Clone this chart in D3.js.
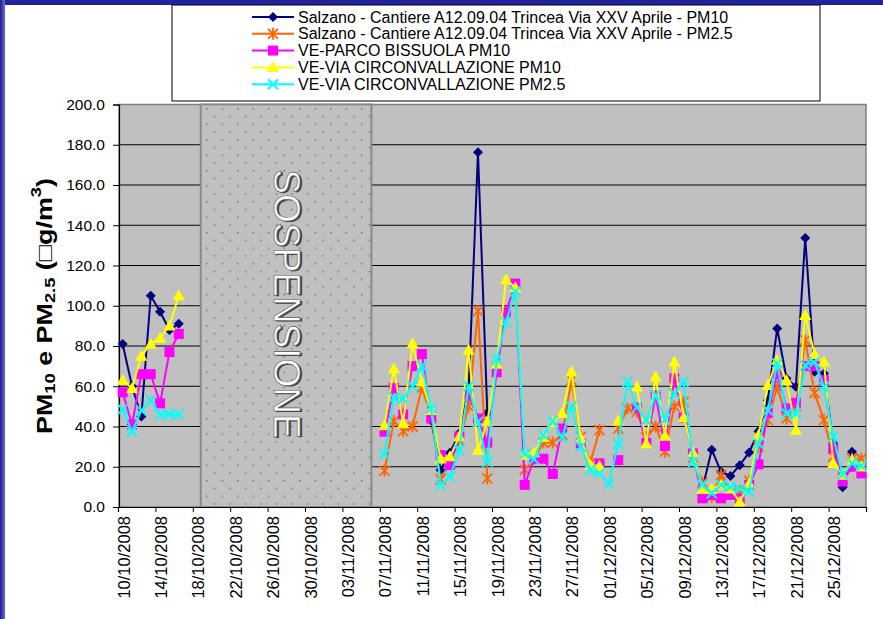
<!DOCTYPE html>
<html><head><meta charset="utf-8">
<script src="https://cdn.jsdelivr.net/npm/d3@7"></script>
<style>
html,body{margin:0;padding:0;background:#fff;}
svg{display:block;font-family:"Liberation Sans",Arial,sans-serif;}
</style></head><body>
<svg id="c" width="883" height="619"></svg>
<script>
// ---- data ----
const startDate = "10/10/2008";
const nDays = 80;
const seriesNames = [
  "Salzano - Cantiere A12.09.04 Trincea Via XXV Aprile - PM10",
  "Salzano - Cantiere A12.09.04 Trincea Via XXV Aprile - PM2.5",
  "VE-PARCO BISSUOLA PM10",
  "VE-VIA CIRCONVALLAZIONE PM10",
  "VE-VIA CIRCONVALLAZIONE PM2.5"
];
const _ = null;
const salzanoPM10 = [
  81,60,45,105,97,88,91,_,_,_,
  _,_,_,_,_,_,_,_,_,_,
  _,_,_,_,_,_,_,_,_,_,
  _,_,_,43,18.4,27,36.6,58,176.3,46.8,
  _,_,_,_,_,_,_,_,_,_,
  _,_,_,_,_,_,_,_,_,_,
  _,_,9,28.5,17.5,15.4,20.8,27.1,37.7,53.1,
  88.7,63.9,59.7,133.7,67.2,66.3,31.6,9.8,27.5,_
];
const salzanoPM25 = [
  _,_,_,_,_,_,_,_,_,_,
  _,_,_,_,_,_,_,_,_,_,
  _,_,_,_,_,_,_,_,18,42.7,
  37.7,40,59.4,45,13.7,22,33,50,97.3,14.2,
  _,_,_,18.4,24,32,32,36,63,35,
  21.7,38.2,_,39,49,47.3,34.6,40,27.5,50,
  52.3,24.5,12,5,16,6.7,8,13,30,43.2,
  59.7,44,50,82.9,56.7,43.2,25,14,24,24
];
const bissuolaPM10 = [
  57,41,66,66,51.5,77,86,_,_,_,
  _,_,_,_,_,_,_,_,_,_,
  _,_,_,_,_,_,_,_,37.4,59.2,
  46,70,76,44,25.8,20.8,35,56,44,32,
  67,97,111,11,24,24,16.4,39,_,31.6,
  _,21.7,_,23.3,_,49.5,31.9,55.6,30.3,63.9,
  44.5,26.6,4.3,6,4.3,6,4.1,11,21.2,46.8,
  66.3,49,51.8,70,70,63,29,12.6,20,16.7
];
const circPM10 = [
  63,59,75,81,84,90,105,_,_,_,
  _,_,_,_,_,_,_,_,_,_,
  _,_,_,_,_,_,_,_,40.4,68.8,
  41.5,81.2,62.2,48,24,25,35,78,28.3,42.3,
  71,113,109,25.8,27,34.6,42,46.5,67.2,34.1,
  21,20.3,_,42.8,_,59.7,31.5,64.7,35.2,72.1,
  44.5,27,8.8,8.8,10.9,9,2.6,11.7,35.7,60.5,
  73,63,38.2,95.3,75.9,72.1,21.7,15.9,23.3,20
];
const circPM25 = [
  48.5,37.5,48,53,46,46,46,_,_,_,
  _,_,_,_,_,_,_,_,_,_,
  _,_,_,_,_,_,_,_,26.3,54.4,
  53.9,60,70,49,10.9,15,28.3,60,42.3,22.5,
  73.3,92,107,26.3,23.7,35.7,42.8,34.6,49.8,30,
  18.4,16.7,11.7,31.3,62.2,49.5,43.2,55.6,43.5,56.4,
  62.2,22.5,10.9,6.8,11,10,9,7.6,31.6,48.1,
  71.3,46.5,46.5,70.5,72,59.7,34.9,16,21.7,20.5
];
const xTickLabels = ["10/10/2008","14/10/2008","18/10/2008","22/10/2008","26/10/2008","30/10/2008",
  "03/11/2008","07/11/2008","11/11/2008","15/11/2008","19/11/2008","23/11/2008","27/11/2008",
  "01/12/2008","05/12/2008","09/12/2008","13/12/2008","17/12/2008","21/12/2008","25/12/2008"];
const yTicks = [0,20,40,60,80,100,120,140,160,180,200];
const suspension = {label:"SOSPENSIONE", from:"18/10/2008", fromOffset:0.85, to:"06/11/2008", toOffset:0.1};
const colors = ["#000080","#FF6600","#FF00FF","#FFFF00","#00FFFF"];
const markers = ["diamond","asterisk","square","triangle","x"];

// ---- chart ----
const parse = d3.utcParse("%d/%m/%Y");
const DAY = 864e5;
const t0 = parse(startDate);
const dates = d3.range(nDays).map(i => new Date(+t0 + i*DAY));
const svg = d3.select("#c");

// frame
svg.append("rect").attr("x",0).attr("y",0).attr("width",883).attr("height",619).attr("fill","#fff");
const g0 = svg.append("defs").append("linearGradient").attr("id","bl").attr("x1",0).attr("x2",1).attr("y1",0).attr("y2",0);
g0.append("stop").attr("offset",0).attr("stop-color","#1c1c8c");
g0.append("stop").attr("offset",1).attr("stop-color","#6a6ad0");
svg.append("rect").attr("x",0).attr("y",0).attr("width",883).attr("height",5).attr("fill","#2323a0");
svg.append("rect").attr("x",0).attr("y",0).attr("width",5).attr("height",619).attr("fill","url(#bl)");

const L = 119, R = 866, T = 104.5, B = 507;
const x = d3.scaleUtc().domain([t0, new Date(+t0 + nDays*DAY)]).range([118, R]);
const y = d3.scaleLinear().domain([0,200]).range([B, T]);

svg.append("rect").attr("x",L).attr("y",T).attr("width",R-L).attr("height",B-T)
  .attr("fill","#C0C0C0").attr("stroke","#808080").attr("stroke-width",1.5);

// gridlines
svg.append("g").selectAll("line").data(yTicks.filter(v=>v>0 && v<200)).join("line")
  .attr("x1",L).attr("x2",R).attr("y1",d=>y(d)).attr("y2",d=>y(d))
  .attr("stroke","#000").attr("stroke-width",1.2);

// suspension
const defs = svg.append("defs");
const pat = defs.append("pattern").attr("id","dots").attr("patternUnits","userSpaceOnUse")
  .attr("width",15.5).attr("height",15.5).attr("x",206).attr("y",108);
pat.append("rect").attr("width",15.5).attr("height",15.5).attr("fill","#C0C0C0");
pat.append("rect").attr("x",0).attr("y",0).attr("width",1.4).attr("height",1.4).attr("fill","#6e6e6e");
pat.append("rect").attr("x",7.75).attr("y",7.75).attr("width",1.4).attr("height",1.4).attr("fill","#6e6e6e");
const sx0 = x(new Date(+parse(suspension.from) + suspension.fromOffset*DAY));
const sx1 = x(new Date(+parse(suspension.to) + suspension.toOffset*DAY));
svg.append("rect").attr("x",sx0).attr("y",T).attr("width",sx1-sx0).attr("height",B-T)
  .attr("fill","url(#dots)").attr("stroke","#8a8a8a").attr("stroke-width",2);
const sc = (sx0+sx1)/2, sy = 304;
svg.append("text").attr("transform",`translate(${sc+2},${sy+1}) rotate(90)`)
  .attr("text-anchor","middle").attr("dominant-baseline","central")
  .attr("font-size",37).attr("fill","#404040").text(suspension.label);
svg.append("text").attr("transform",`translate(${sc},${sy}) rotate(90)`)
  .attr("text-anchor","middle").attr("dominant-baseline","central")
  .attr("font-size",37).attr("fill","#fff").attr("stroke","#555").attr("stroke-width",0.6).text(suspension.label);

// y axis
const ya = svg.append("g").attr("transform",`translate(${L},0)`)
  .call(d3.axisLeft(y).tickValues(yTicks).tickFormat(d3.format(".1f")).tickSize(6).tickPadding(8));
ya.select(".domain").attr("stroke","#000").attr("stroke-width",1.2);
ya.selectAll(".tick line").attr("stroke","#000");
ya.selectAll("text").attr("font-size",15.5).attr("font-family","Liberation Sans, Arial").attr("fill","#000");

// x axis
const tickDates = xTickLabels.map(parse).concat([new Date(+t0 + nDays*DAY)]);
const xa = svg.append("g").attr("transform",`translate(0,${B})`)
  .call(d3.axisBottom(x).tickValues(tickDates).tickSize(5).tickFormat(""));
xa.select(".domain").attr("stroke","#000").attr("stroke-width",1.2);
xa.selectAll(".tick line").attr("stroke","#000");
svg.append("g").selectAll("text").data(xTickLabels).join("text")
  .attr("transform",d=>`translate(${x(new Date(+parse(d)+0.5*DAY))+1},${516}) rotate(-90)`)
  .attr("text-anchor","end").attr("dominant-baseline","central")
  .attr("font-size",16.5).attr("fill","#000").text(d=>d);

// y title
const yt = svg.append("text").attr("transform","translate(44,306) rotate(-90)")
  .attr("text-anchor","middle").attr("dominant-baseline","central")
  .attr("font-size",22).attr("font-weight","bold").attr("fill","#000")
  .attr("textLength",256).attr("lengthAdjust","spacingAndGlyphs");
yt.append("tspan").text("PM");
yt.append("tspan").attr("font-size",15).attr("dy",5).text("10");
yt.append("tspan").attr("dy",-5).text(" e PM");
yt.append("tspan").attr("font-size",15).attr("dy",5).text("2.5");
yt.append("tspan").attr("dy",-5).text(" (\u25A1g/m");
yt.append("tspan").attr("font-size",15).attr("dy",-9).text("3");
yt.append("tspan").attr("dy",9).text(")");

// markers
function drawMarker(sel, type, color, s) {
  if (type==="diamond") sel.append("path").attr("d",`M0,${-s}L${s},0L0,${s}L${-s},0Z`).attr("fill",color);
  else if (type==="square") sel.append("rect").attr("x",-s).attr("y",-s).attr("width",2*s).attr("height",2*s).attr("fill",color);
  else if (type==="triangle") sel.append("path").attr("d",`M0,${-s*1.15}L${s*1.1},${s*0.85}L${-s*1.1},${s*0.85}Z`).attr("fill",color);
  else if (type==="x") sel.append("path").attr("d",`M${-s},${-s}L${s},${s}M${-s},${s}L${s},${-s}`).attr("stroke",color).attr("stroke-width",2);
  else if (type==="asterisk") sel.append("path").attr("d",`M${-s},${-s}L${s},${s}M${-s},${s}L${s},${-s}M0,${-s*1.2}L0,${s*1.2}`).attr("stroke",color).attr("stroke-width",1.8);
}
const allSeries = [salzanoPM10, salzanoPM25, bissuolaPM10, circPM10, circPM25];
const line = d3.line().defined(d=>d.v!=null).x(d=>x(new Date(+d.t+0.5*DAY))).y(d=>y(d.v));
const sizes = [5,5,5,5.5,5];
allSeries.forEach((vals,k)=>{
  const pts = vals.map((v,i)=>({t:dates[i],v}));
  const g = svg.append("g");
  g.append("path").datum(pts).attr("d",line).attr("fill","none").attr("stroke",colors[k]).attr("stroke-width",2);
  pts.filter(d=>d.v!=null).forEach(d=>{
    const m = g.append("g").attr("transform",`translate(${x(new Date(+d.t+0.5*DAY))},${y(d.v)})`);
    drawMarker(m, markers[k], colors[k], sizes[k]);
  });
});

// legend
svg.append("rect").attr("x",172).attr("y",5).attr("width",648).attr("height",96)
  .attr("fill","#fff").attr("stroke","#000").attr("stroke-width",1);
seriesNames.forEach((name,k)=>{
  const cy = 17 + k*16.8;
  const g = svg.append("g");
  g.append("line").attr("x1",252).attr("x2",294).attr("y1",cy).attr("y2",cy).attr("stroke",colors[k]).attr("stroke-width",2);
  const m = g.append("g").attr("transform",`translate(273,${cy})`);
  drawMarker(m, markers[k], colors[k], sizes[k]);
  g.append("text").attr("x",298).attr("y",cy+5.5).attr("font-size",16).attr("fill","#000").text(name);
});
</script></body></html>
